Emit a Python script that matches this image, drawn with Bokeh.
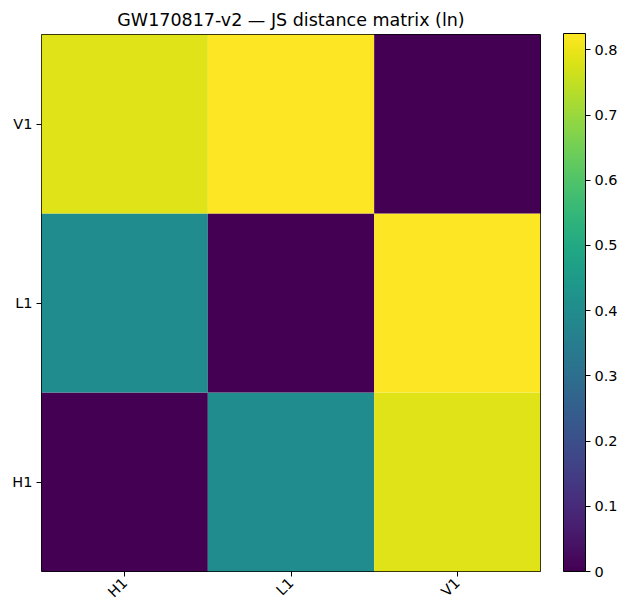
import math
from bokeh.plotting import figure
from bokeh.models import ColumnDataSource, LinearColorMapper, ColorBar, FixedTicker
from bokeh.palettes import Viridis256
from bokeh.embed import file_html
from bokeh.resources import INLINE

# Detectors and pairwise Jensen-Shannon distances (natural log)
detectors = ["H1", "L1", "V1"]
row_H1 = [0.0, 0.40, 0.785]
row_L1 = [0.40, 0.0, 0.825]
row_V1 = [0.785, 0.825, 0.0]
cbar_ticks = [0.0, 0.1, 0.2, 0.3, 0.4, 0.5, 0.6, 0.7, 0.8]

matrix = {"H1": row_H1, "L1": row_L1, "V1": row_V1}
xs, ys, vals = [], [], []
for ydet in detectors:
    for j, xdet in enumerate(detectors):
        xs.append(xdet)
        ys.append(ydet)
        vals.append(matrix[ydet][j])
source = ColumnDataSource(dict(x=xs, y=ys, val=vals))

vmax = max(vals)
mapper = LinearColorMapper(palette=Viridis256, low=0.0, high=vmax)

FONT = "DejaVu Sans"
W, H = 623, 609
LEFT, RIGHT, TOP, BOTTOM = 41, 83, 34, 37
frame_w = W - LEFT - RIGHT
frame_h = H - TOP - BOTTOM

p = figure(
    width=W, height=H,
    x_range=detectors, y_range=detectors,
    title="GW170817-v2 — JS distance matrix (ln)",
    output_backend="svg", toolbar_location=None,
    min_border_left=LEFT, min_border_right=RIGHT,
    min_border_top=TOP, min_border_bottom=BOTTOM,
)
p.rect(x="x", y="y", width=1, height=1, source=source,
       fill_color={"field": "val", "transform": mapper}, line_color=None)

p.title.align = "center"
p.title.text_font = FONT
p.title.text_font_size = "17.5px"
p.title.text_font_style = "normal"
p.title.text_color = "#000000"

p.grid.visible = False
p.outline_line_color = "#000000"
p.outline_line_width = 1
p.x_range.range_padding = 0
p.y_range.range_padding = 0

for ax in (p.xaxis[0], p.yaxis[0]):
    ax.axis_line_color = None
    ax.major_tick_line_color = "#000000"
    ax.major_tick_out = 5
    ax.major_tick_in = 0
    ax.minor_tick_line_color = None
    ax.major_label_text_font = FONT
    ax.major_label_text_font_size = "14.5px"
    ax.major_label_text_color = "#000000"
    ax.major_label_standoff = 4
p.xaxis[0].major_label_orientation = math.pi / 4

# colour bar sits to the right of the heatmap, same height as the frame
cbar = ColorBar(
    color_mapper=mapper, width=22, height=frame_h,
    padding=0, margin=0, location=(frame_w + 23, 0),
    ticker=FixedTicker(ticks=cbar_ticks),
    bar_line_color="#000000", bar_line_width=1,
    major_tick_line_color="#000000", major_tick_in=0, major_tick_out=5,
    minor_tick_line_color=None,
    major_label_text_font=FONT, major_label_text_font_size="14.5px",
    major_label_text_color="#000000",
    label_standoff=4, background_fill_color=None, border_line_color=None,
)
p.add_layout(cbar)

open("out.html", "w").write(file_html(p, INLINE))
